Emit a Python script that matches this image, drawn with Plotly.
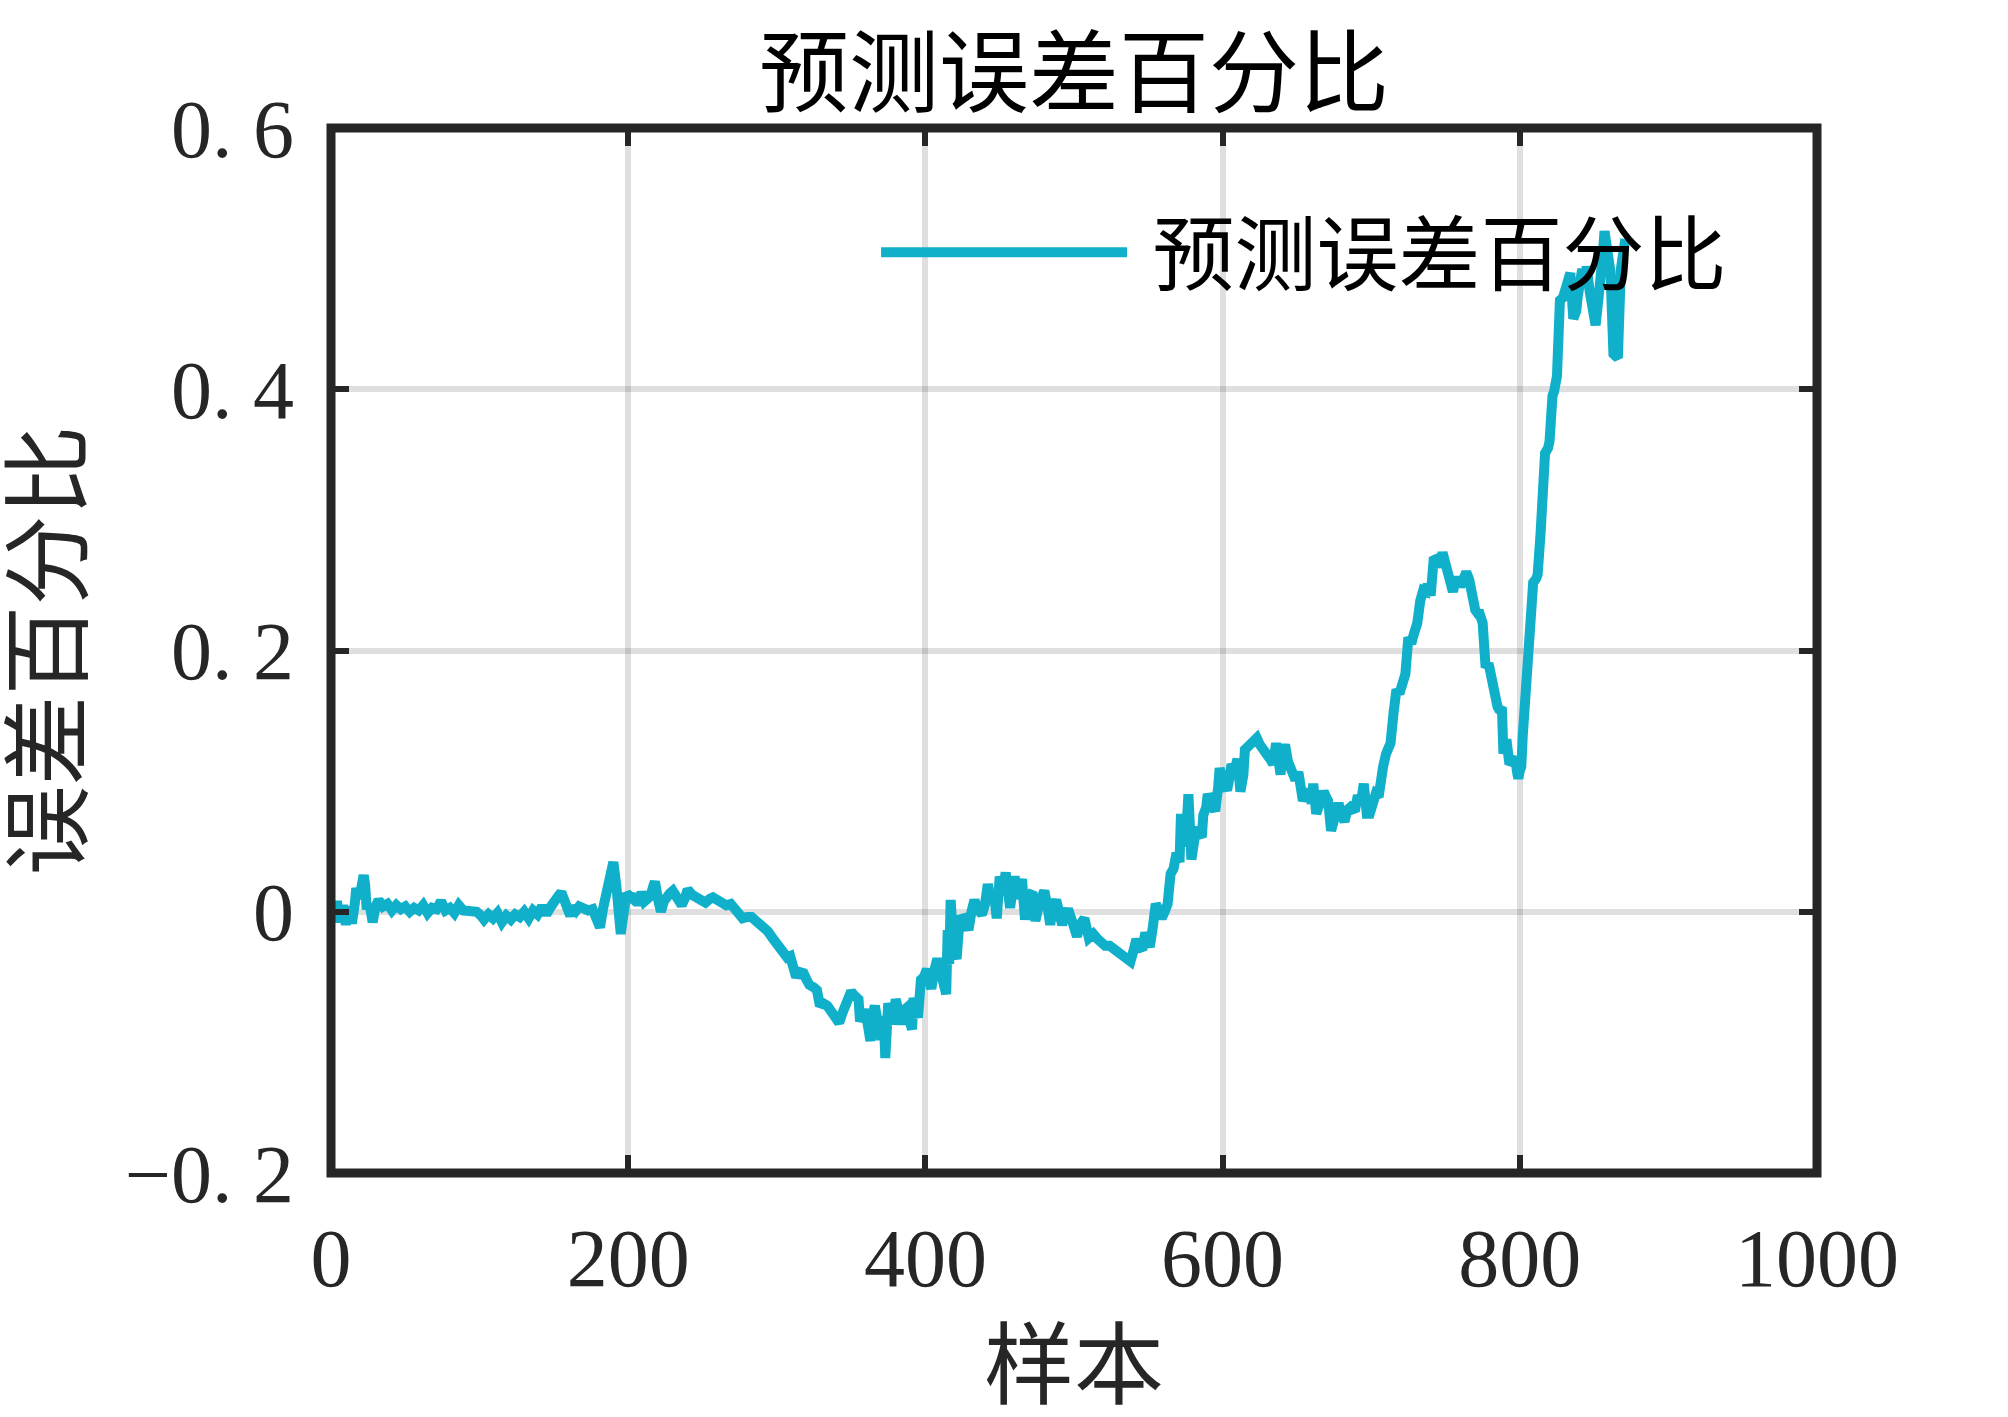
import plotly.graph_objects as go

# ---- data ----
sample_idx = [
    1, 2, 4, 6, 8, 10, 12, 14, 16, 17, 19, 21, 22, 23, 24, 26, 28, 30, 32, 35, 38, 41, 44, 47, 50,
    53, 56, 59, 62, 65, 68, 71, 74, 77, 80, 83, 86, 89, 92, 95, 98, 101, 103, 106, 109, 112, 115,
    118, 121, 124, 127, 130, 133, 136, 139, 142, 145, 148, 150, 153, 155, 157, 159, 161, 163, 165,
    167, 170, 173, 176, 178, 180, 181, 183, 185, 187, 189, 190, 192, 194, 195, 197, 199, 201, 203,
    205, 207, 209, 211, 213, 215, 217, 218, 220, 222, 224, 226, 228, 230, 233, 236, 238, 240, 243,
    246, 249, 252, 255, 257, 260, 263, 266, 269, 272, 275, 277, 280, 283, 286,
    289, 291, 294, 297, 300, 302, 305, 307, 309, 311, 313, 315, 318, 320, 322, 325, 327, 329, 331,
    334, 337, 340, 342, 344, 346, 348, 350, 352, 355, 356, 358, 359, 361, 363, 364, 366, 368, 370,
    372, 373, 375, 377, 378, 380, 382, 384, 386, 387, 389, 391, 392, 394, 395, 397, 399, 401, 403,
    404, 406, 408, 410, 411, 413, 414, 415, 416, 417, 418, 419, 421, 423, 426, 429, 431, 433, 435,
    438, 440, 442, 444, 446, 448, 450, 452, 454, 456, 457, 459, 460, 462, 465, 467, 469, 472, 474,
    477, 480, 482, 484, 486, 488, 490, 492, 494, 496, 499, 502, 504, 507, 510, 513, 516, 519, 521,
    524, 528, 531, 534, 538, 540, 542, 544, 546, 548, 550,
    551, 553, 555, 557, 559, 561, 563, 565, 567, 569, 571, 572, 573, 575, 577, 578, 579, 581, 582,
    584, 586, 587, 589, 590, 592, 595, 597, 598, 600, 603, 605, 606, 608, 610, 612, 614, 615, 617,
    619, 621, 623, 625, 627, 630, 632, 634, 636, 637, 639, 640, 642, 644, 645, 647, 649, 651, 653,
    654, 656, 658, 660, 661, 663, 665, 668, 670, 671, 673, 675, 677, 678, 680, 682, 684, 686, 688,
    689, 691, 693, 695, 697, 699, 701, 703, 705, 706, 708, 710, 712, 713, 715, 717,
    719, 721, 723, 725, 727, 728, 731, 733, 735, 737, 738, 740, 742, 744, 746, 748, 750, 751, 753,
    755, 756, 758, 760, 762, 764, 766, 768, 770, 772, 773, 775, 776, 777, 779, 781, 782, 783, 785,
    786, 788, 789, 790, 791, 793, 795, 797, 798, 799, 800, 801,
    802, 804, 806, 807, 809, 811, 812, 814, 815, 817, 819, 820, 822, 823, 825, 827, 829, 830, 832,
    834, 836, 838, 839, 841, 842, 844, 845, 847, 849, 851, 853, 854, 856, 857, 859, 861, 863, 865,
    866, 868, 870, 871,
]

error_pct = [
    0.000, -0.006, 0.008, -0.008, 0.005, -0.010, 0.004, -0.009, 0.006, 0.018, 0.010, 0.022, 0.028,
    0.020, 0.002, 0.006, -0.008, 0.004, 0.009, 0.004, 0.006, 0.001, 0.005, 0.002, 0.004,
    0.000, 0.003, 0.001, 0.005, -0.001, 0.003, 0.002, 0.008, 0.001, 0.003, -0.001, 0.005, 0.001,
    0.001, 0.000, 0.000, -0.003, -0.006, -0.002, -0.005, -0.001, -0.008,
    -0.003, -0.006, -0.002, -0.004, 0.000, -0.005, 0.001, -0.002, 0.004, -0.002, 0.004, 0.009,
    0.012, 0.015, 0.010, 0.006, -0.003, 0.004, 0.001,
    0.004, 0.002, 0.001, 0.002, -0.003, -0.010, -0.012, 0.002, 0.014, 0.024, 0.034, 0.038, 0.020,
    -0.010, -0.017, 0.000, 0.014, 0.012, 0.010,
    0.013, 0.005, 0.015, 0.008, 0.010, 0.012, 0.020, 0.023, 0.010, 0.000, 0.008, 0.012, 0.014,
    0.016, 0.010, 0.005, 0.010, 0.017, 0.013,
    0.011, 0.008, 0.007, 0.010, 0.011, 0.009, 0.007, 0.005, 0.006, 0.001, -0.002, -0.005, -0.004,
    -0.004, -0.007,
    -0.010, -0.011, -0.015, -0.020, -0.025, -0.029, -0.033, -0.035, -0.034, -0.040, -0.050, -0.046,
    -0.047, -0.052, -0.056, -0.058, -0.060, -0.072, -0.070,
    -0.072, -0.077, -0.082, -0.085, -0.078, -0.070, -0.066, -0.061, -0.064, -0.067, -0.084, -0.080,
    -0.075, -0.085, -0.099, -0.080, -0.072, -0.085, -0.098,
    -0.080, -0.112, -0.070, -0.080, -0.086, -0.067, -0.078, -0.086, -0.075, -0.074, -0.082, -0.090,
    -0.066, -0.075, -0.081, -0.052, -0.050, -0.044, -0.052,
    -0.059, -0.045, -0.036, -0.045, -0.049, -0.058, -0.063, -0.014, -0.040, 0.009, -0.010, -0.030,
    -0.036, -0.006, -0.005, -0.014, 0.000, 0.009, 0.002,
    -0.002, 0.005, 0.021, 0.010, 0.015, -0.005, 0.027, 0.015, 0.030, 0.012, 0.003, 0.020, 0.027,
    0.010, 0.025, -0.006, 0.012, 0.015, -0.007,
    0.008, 0.016, 0.005, -0.010, 0.004, 0.009, 0.000, -0.010, -0.003, 0.002, -0.008, -0.019, -0.010,
    -0.005, -0.020, -0.017, -0.021, -0.024, -0.026,
    -0.026, -0.029, -0.032, -0.035, -0.038, -0.030, -0.021, -0.027, -0.029, -0.016, -0.025,
    -0.027, -0.012, 0.006, 0.001, -0.005, 0.000, 0.006, 0.029, 0.033, 0.045, 0.038, 0.075, 0.060,
    0.050, 0.090, 0.060, 0.040, 0.055, 0.065,
    0.060, 0.057, 0.074, 0.080, 0.090, 0.085, 0.077, 0.095, 0.110, 0.100, 0.093, 0.105, 0.113,
    0.108, 0.117, 0.092, 0.105, 0.124, 0.126,
    0.127, 0.130, 0.133, 0.128, 0.123, 0.120, 0.117, 0.113, 0.129, 0.115, 0.105, 0.120, 0.128,
    0.115, 0.111, 0.108, 0.101, 0.107, 0.095,
    0.085, 0.090, 0.093, 0.083, 0.098, 0.075, 0.085, 0.092, 0.087, 0.085, 0.062, 0.070, 0.080,
    0.083, 0.075, 0.069, 0.078, 0.080, 0.078,
    0.077, 0.089, 0.083, 0.098, 0.075, 0.075, 0.088, 0.090, 0.088, 0.101, 0.111, 0.121, 0.125,
    0.129, 0.152, 0.170,
    0.167, 0.175, 0.182, 0.210, 0.205, 0.210, 0.221, 0.238, 0.246, 0.245, 0.251, 0.242, 0.269,
    0.270, 0.264, 0.275, 0.265, 0.263, 0.256,
    0.245, 0.250, 0.256, 0.249, 0.255, 0.260, 0.254, 0.240, 0.231, 0.228, 0.228, 0.221, 0.190,
    0.187, 0.190, 0.175, 0.170, 0.167, 0.157,
    0.155, 0.154, 0.121, 0.125, 0.132, 0.113, 0.115, 0.118, 0.108, 0.102, 0.108, 0.111,
    0.135, 0.164, 0.190, 0.205, 0.252, 0.255, 0.258, 0.290, 0.322, 0.351, 0.355, 0.360, 0.395,
    0.398, 0.410, 0.468, 0.470, 0.474, 0.476,
    0.489, 0.454, 0.460, 0.471, 0.480, 0.492, 0.478, 0.494, 0.475, 0.462, 0.449, 0.470, 0.492,
    0.505, 0.521, 0.510, 0.490, 0.427, 0.425,
    0.424, 0.492, 0.505, 0.515,
]

x_tickvals = [0, 200, 400, 600, 800, 1000]
x_ticktext = ["0", "200", "400", "600", "800", "1000"]
y_tickvals = [-0.2, 0, 0.2, 0.4, 0.6]
y_ticktext = ["\u22120. 2", "0", "0. 2", "0. 4", "0. 6"]

series_name = "预测误差百分比"
title_text = "预测误差百分比"
x_title = "样本"
y_title = "误差百分比"

FONT = "Liberation Serif, Noto Sans CJK SC, serif"
AXC = "#262626"
LINEC = "#10B0CA"
GRIDC = "rgba(38,38,38,0.15)"

fig = go.Figure()
fig.add_trace(go.Scatter(
    x=sample_idx, y=error_pct, mode="lines", name=" " + series_name,
    line=dict(color=LINEC, width=10),
))

axis_common = dict(
    showline=False, zeroline=False,
    showgrid=True, gridcolor=GRIDC, gridwidth=6,
    ticks="inside", ticklen=18, tickwidth=6, tickcolor=AXC, mirror="ticks",
    tickfont=dict(family=FONT, size=82, color=AXC),
)

fig.update_xaxes(
    range=[0, 1000], tickvals=x_tickvals, ticktext=x_ticktext,
    title=dict(text=x_title, font=dict(family=FONT, size=90, color=AXC), standoff=30),
    ticklabelstandoff=30,
    **axis_common,
)
fig.update_yaxes(
    range=[-0.2, 0.6], tickvals=y_tickvals, ticktext=y_ticktext,
    title=dict(text=y_title, font=dict(family=FONT, size=90, color=AXC), standoff=40),
    ticklabelstandoff=36,
    **axis_common,
)

fig.add_shape(type="rect", xref="paper", yref="paper", x0=0, x1=1, y0=0, y1=1,
              line=dict(color=AXC, width=9), layer="above")

fig.update_layout(
    width=2008, height=1417,
    margin=dict(l=331, r=191, t=127.5, b=244),
    paper_bgcolor="white", plot_bgcolor="white",
    title=dict(text=title_text, x=0.5, xref="paper", xanchor="center",
               y=1 - 73 / 1417, yref="container", yanchor="middle",
               font=dict(family=FONT, size=90, color="#000000")),
    showlegend=True,
    legend=dict(x=0.3668, y=0.881, xanchor="left", yanchor="middle",
                bgcolor="rgba(0,0,0,0)", borderwidth=0, itemwidth=246,
                font=dict(family=FONT, size=82, color="#000000")),
)

fig.write_html("out.html")
